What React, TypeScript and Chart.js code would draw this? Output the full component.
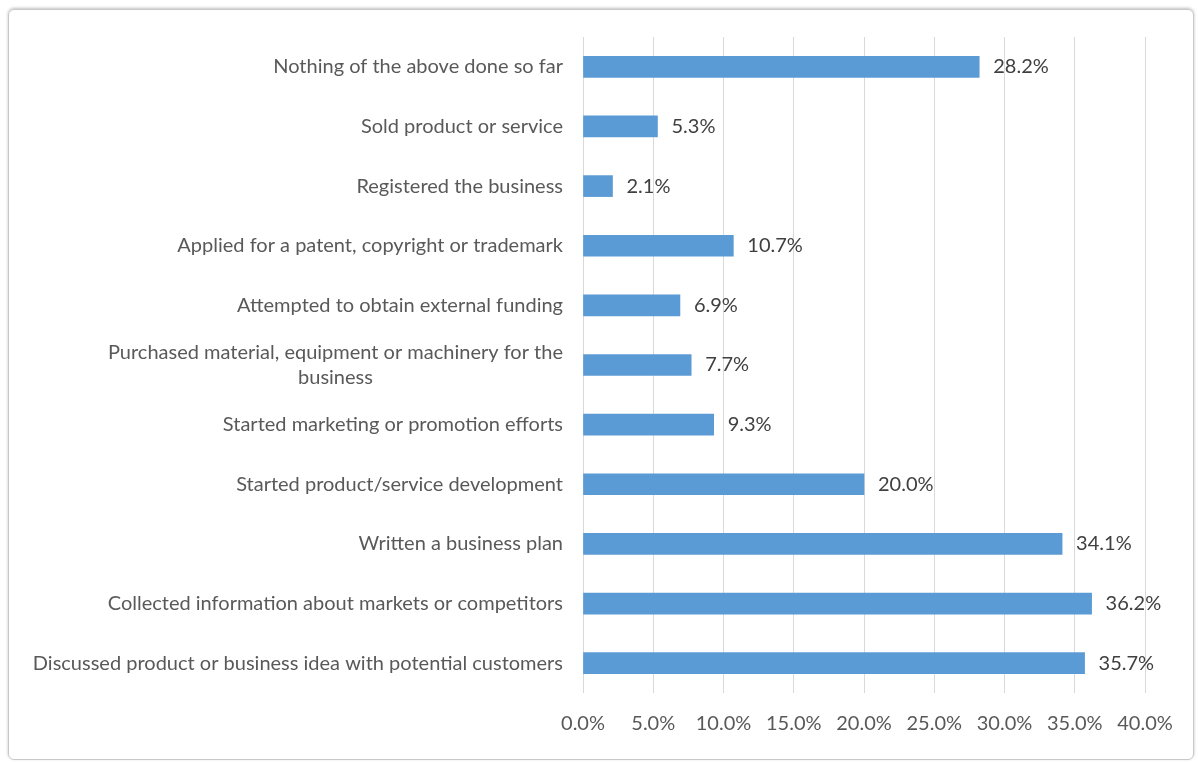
import React, { useEffect, useRef } from "react";
import { Chart, registerables } from "chart.js";

Chart.register(...registerables);

const categories: string[][] = [
  ["Nothing of the above done so far"],
  ["Sold product or service"],
  ["Registered the business"],
  ["Applied for a patent, copyright or trademark"],
  ["Attempted to obtain external funding"],
  ["Purchased material, equipment or machinery for the", "business"],
  ["Started marketing or promotion efforts"],
  ["Started product/service development"],
  ["Written a business plan"],
  ["Collected information about markets or competitors"],
  ["Discussed product or business idea with potential customers"],
];

const values: number[] = [28.2, 5.3, 2.1, 10.7, 6.9, 7.7, 9.3, 20.0, 34.1, 36.2, 35.7];

const xTickLabels: string[] = ["0.0%", "5.0%", "10.0%", "15.0%", "20.0%", "25.0%", "30.0%", "35.0%", "40.0%"];

const FONT = "Lato";
const LABEL_SIZE = 20;
const W = 1198;
const H = 762;

export default function App() {
  const ref = useRef<HTMLCanvasElement | null>(null);

  useEffect(() => {
    if (!ref.current) return;
    const labelPlugin = {
      id: "customLabels",
      afterDraw(chart: any) {
        const ctx = chart.ctx;
        const y = chart.scales.y;
        const meta = chart.getDatasetMeta(0);
        ctx.save();
        // category labels
        ctx.font = `${LABEL_SIZE}px ${FONT}`;
        ctx.fillStyle = "#595959";
        ctx.textBaseline = "middle";
        ctx.textAlign = "center";
        const rightEdge = 563;
        const lineH = 25;
        categories.forEach((lines, i) => {
          const cy = y.getPixelForValue(i);
          const maxW = Math.max(...lines.map((l) => ctx.measureText(l).width));
          const cx = rightEdge - maxW / 2;
          const startY = cy - ((lines.length - 1) * lineH) / 2;
          lines.forEach((l, j) => ctx.fillText(l, cx, startY + j * lineH));
        });
        // data labels
        ctx.fillStyle = "#404040";
        ctx.textAlign = "left";
        meta.data.forEach((bar: any, i: number) => {
          ctx.fillText(values[i].toFixed(1) + "%", bar.x + 14, bar.y);
        });
        ctx.restore();
      },
    };

    const chart = new Chart(ref.current, {
      type: "bar",
      data: {
        labels: categories.map((c) => c.join(" ")),
        datasets: [
          {
            data: values,
            backgroundColor: "#5B9BD5",
            borderWidth: 0,
            barThickness: 21,
          },
        ],
      },
      options: {
        indexAxis: "y",
        animation: false,
        responsive: false,
        devicePixelRatio: 1,
        layout: { padding: { top: 37, right: 53, left: 0, bottom: 0 } },
        plugins: { legend: { display: false }, tooltip: { enabled: false } },
        scales: {
          x: {
            min: 0,
            max: 40,
            ticks: {
              stepSize: 5,
              color: "#595959",
              font: { family: FONT, size: 20 },
              padding: 19,
              maxRotation: 0,
              autoSkip: false,
              callback: (_v: any, i: number) => xTickLabels[i],
            },
            grid: { color: "#d9d9d9", lineWidth: 1, drawTicks: false },
            border: { display: false },
            afterFit: (s: any) => {
              s.height = 69;
            },
          },
          y: {
            ticks: { display: false },
            grid: { display: false },
            border: { display: false },
            afterFit: (s: any) => {
              s.width = 583;
            },
          },
        },
      },
      plugins: [labelPlugin],
    });
    return () => chart.destroy();
  }, []);

  return (
    <div style={{ position: "fixed", left: 0, top: 0, width: W, height: H, background: "#fff" }}>
      <div
        style={{
          position: "absolute",
          left: 8,
          top: 9,
          width: 1186,
          height: 751,
          boxSizing: "border-box",
          border: "1px solid #c8c8c8",
          borderRadius: 6,
          boxShadow: "0 -1px 3px rgba(0,0,0,0.25)",
        }}
      />
      <canvas ref={ref} width={W} height={H} style={{ position: "absolute", left: 0, top: 0 }} />
    </div>
  );
}
